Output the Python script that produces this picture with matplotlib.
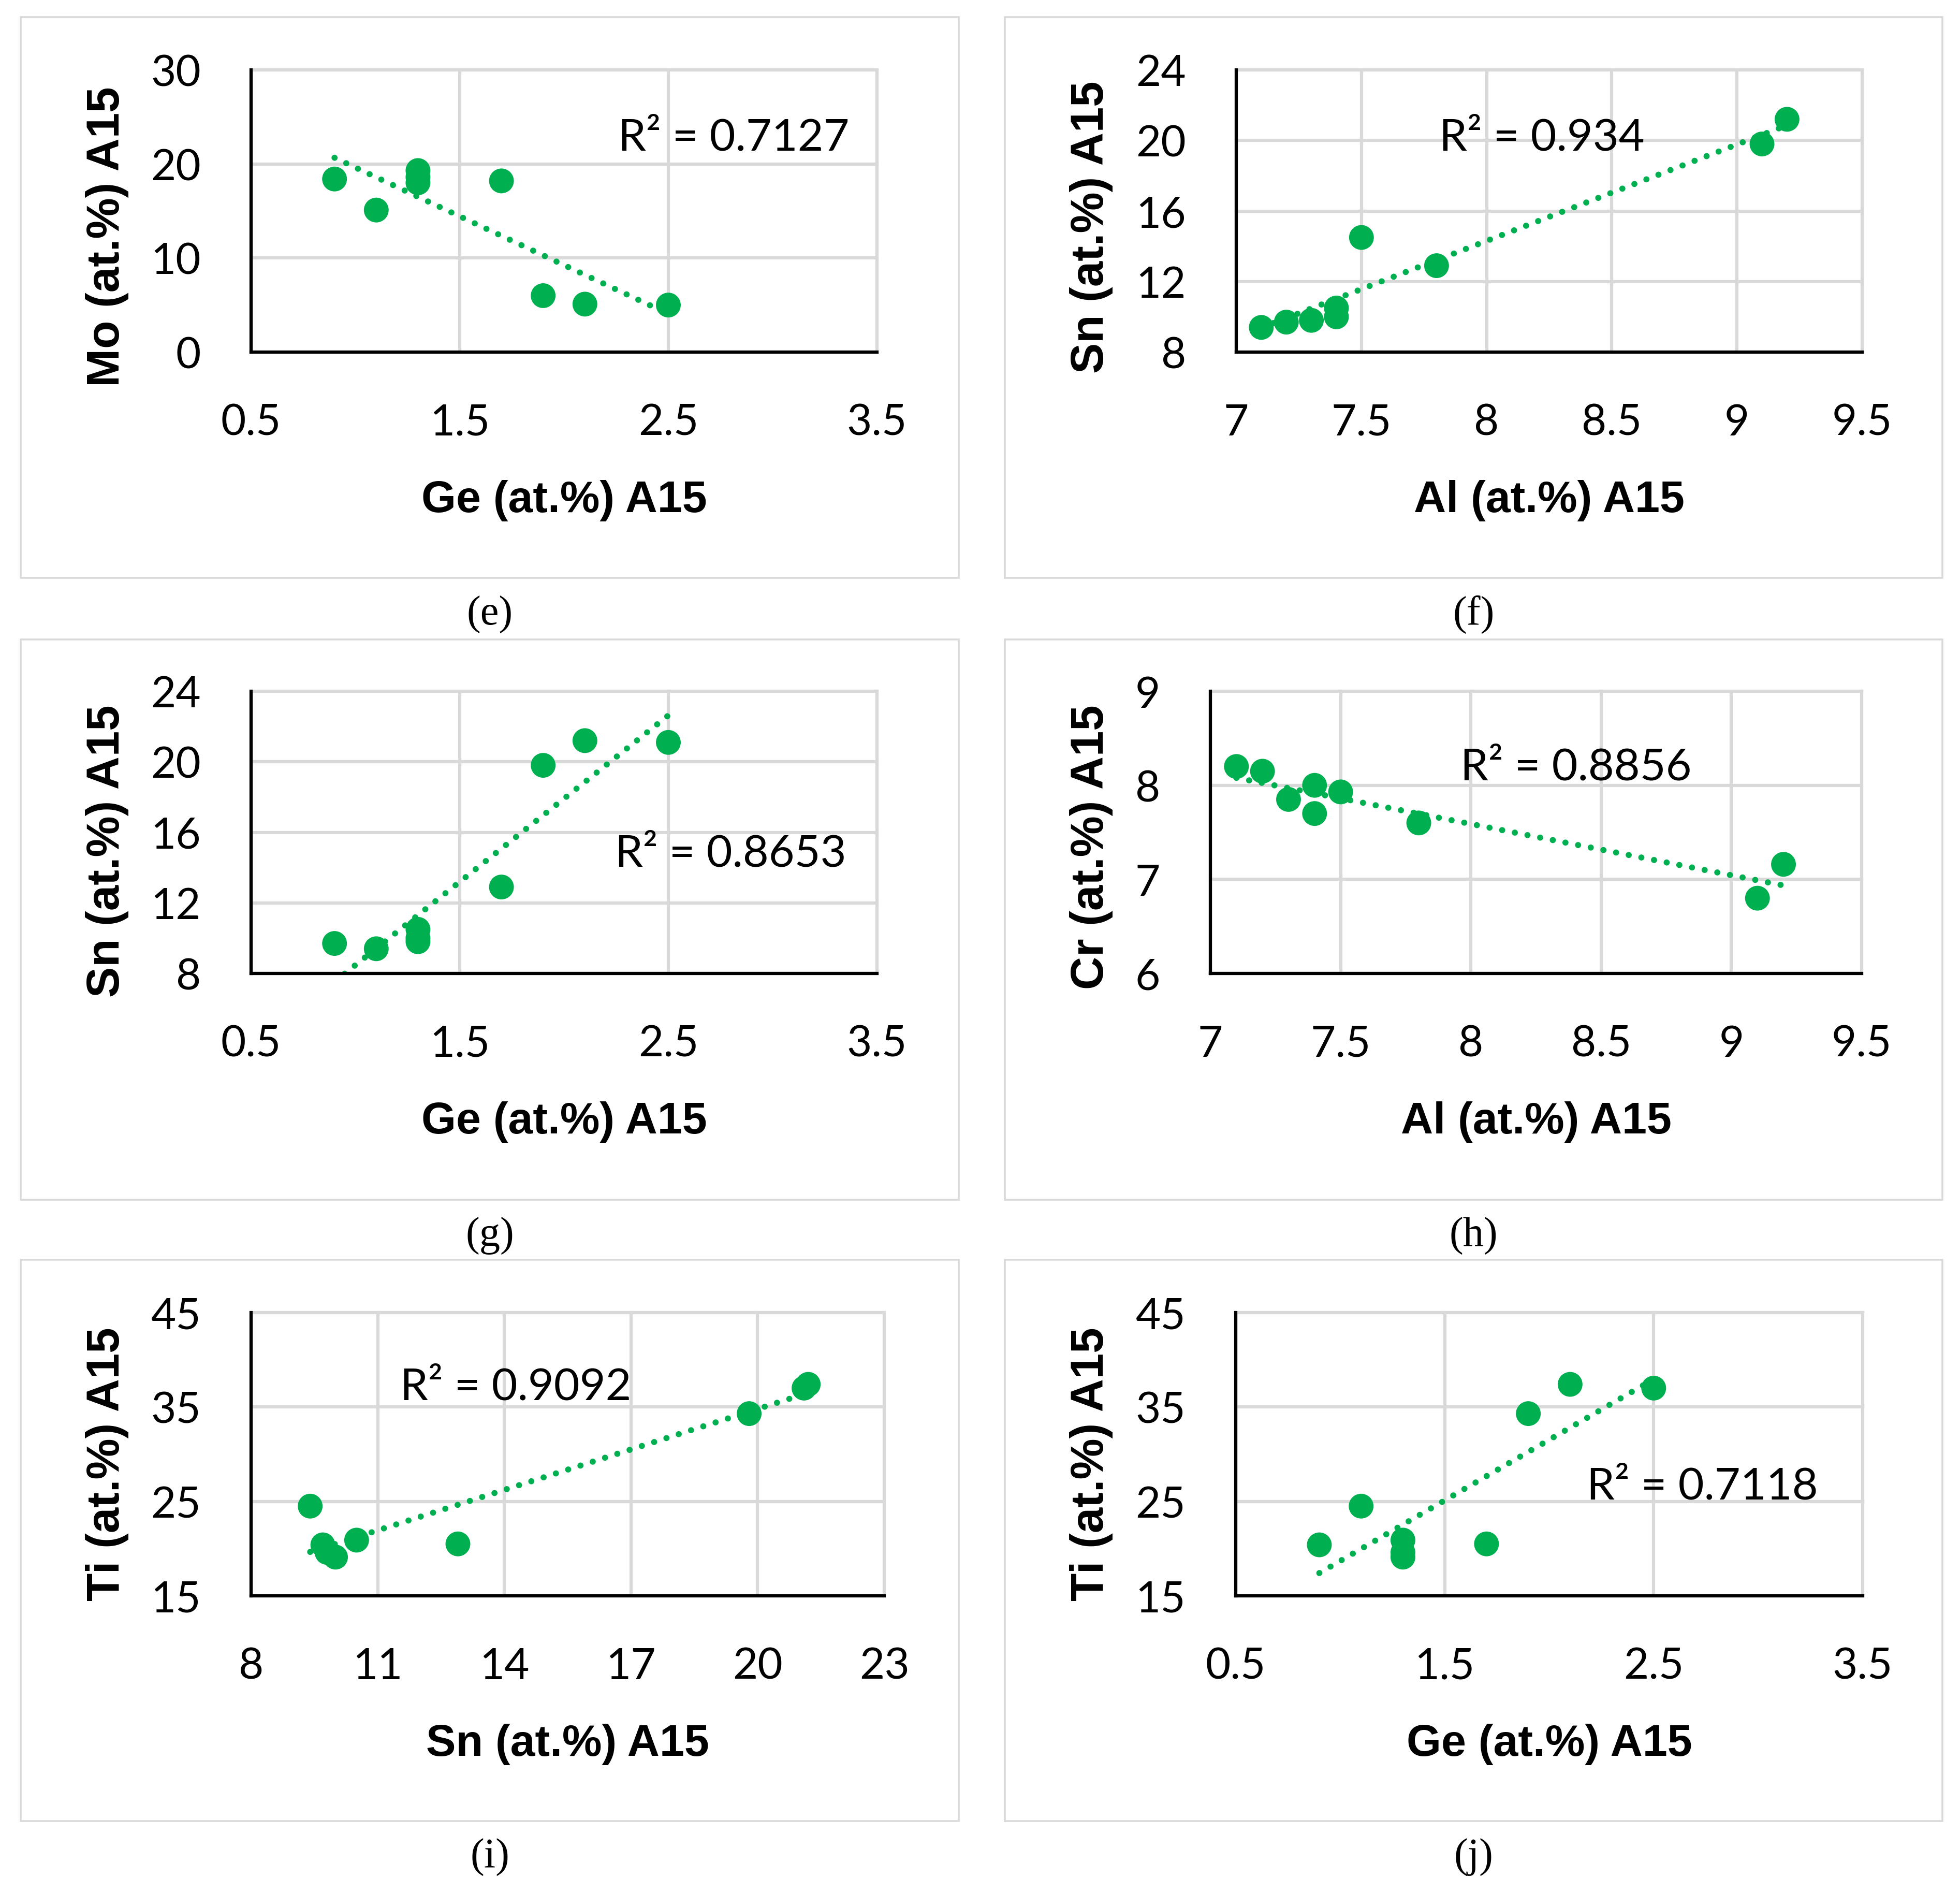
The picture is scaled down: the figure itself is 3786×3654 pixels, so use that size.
import numpy as np
import matplotlib
matplotlib.use("Agg")
import matplotlib.pyplot as plt
from matplotlib.patches import Rectangle

# ---- data ----
ge = [0.9, 1.1, 1.3, 1.3, 1.3, 1.7, 1.9, 2.1, 2.5]
mo = [18.4, 15.1, 19.3, 18.6, 18.0, 18.2, 6.0, 5.1, 5.0]
sn_ge = [9.7, 9.4, 10.5, 9.8, 10.0, 12.9, 19.8, 21.2, 21.1]
ti = [20.4, 24.5, 20.9, 19.6, 19.1, 20.5, 34.3, 37.4, 37.0]

al = [7.1, 7.2, 7.3, 7.4, 7.4, 7.5, 7.8, 9.1, 9.2]
sn_al = [9.4, 9.7, 9.8, 10.5, 10.0, 14.5, 12.9, 19.8, 21.2]
cr = [8.2, 8.15, 7.85, 8.0, 7.7, 7.93, 7.6, 6.8, 7.16]

ge_ticks = [0.5, 1.5, 2.5, 3.5]
ge_labels = ["0.5", "1.5", "2.5", "3.5"]
al_ticks = [7, 7.5, 8, 8.5, 9, 9.5]
al_labels = ["7", "7.5", "8", "8.5", "9", "9.5"]
sn_ticks = [8, 11, 14, 17, 20, 23]
sn_ticks_y = [8, 12, 16, 20, 24]
mo_ticks = [0, 10, 20, 30]
cr_ticks = [6, 7, 8, 9]
ti_ticks = [15, 25, 35, 45]

r2_labels = ["0.7127", "0.934", "0.8653", "0.8856", "0.9092", "0.7118"]
captions = ["(e)", "(f)", "(g)", "(h)", "(i)", "(j)"]

GREEN = "#00B050"
GRID = "#D9D9D9"
W, H = 3786, 3655

# panel: x, y, xticks, xlabels, yticks, xlabel, ylabel,
#        plot box (px: left, right, top, bottom), y-label centre (px), r2 pos (data)
panels = [
    (ge, mo, ge_ticks, ge_labels, mo_ticks, "Ge (at.%) A15", "Mo (at.%) A15",
     (485, 1694, 136, 681), (207, 457), (2.26, 21.5)),
    (al, sn_al, al_ticks, al_labels, sn_ticks_y, "Al (at.%) A15", "Sn (at.%) A15",
     (2388, 3597, 136, 681), (2108, 439), (7.81, 19.47)),
    (ge, sn_ge, ge_ticks, ge_labels, sn_ticks_y, "Ge (at.%) A15", "Sn (at.%) A15",
     (485, 1694, 1336, 1881), (207, 1644), (2.244, 14.09)),
    (al, cr, al_ticks, al_labels, cr_ticks, "Al (at.%) A15", "Cr (at.%) A15",
     (2338, 3596, 1336, 1881), (2108, 1636), (7.96, 8.06)),
    (sn_ge, ti, sn_ticks, [str(t) for t in sn_ticks], ti_ticks, "Sn (at.%) A15", "Ti (at.%) A15",
     (485, 1708, 2536, 3083), (207, 2828), (11.53, 35.8)),
    (ge, ti, ge_ticks, ge_labels, ti_ticks, "Ge (at.%) A15", "Ti (at.%) A15",
     (2387, 3598, 2536, 3083), (2108, 2828), (2.18, 25.3)),
]

frames_x = [(40, 1852), (1941, 3752)]
frames_y = [(34, 1117), (1236, 2318), (2434, 3518)]

TICK_FONT = ["Lato", "DejaVu Sans"]
LABEL_FONT = ["Liberation Sans", "DejaVu Sans"]


def main():
    fig = plt.figure(figsize=(W / 100, H / 100), dpi=100)

    # light frames around each chart and the captions below them
    for k in range(6):
        col, row = k % 2, k // 2
        x0, x1 = frames_x[col]
        y0, y1 = frames_y[row]
        fig.patches.append(Rectangle((x0 / W, 1 - y1 / H), (x1 - x0) / W, (y1 - y0) / H,
                                     transform=fig.transFigure, fill=False,
                                     edgecolor=GRID, linewidth=2.6))
        fig.text((x0 + x1) / 2 / W, 1 - (1187 + 1200 * row) / H, captions[k],
                 ha="center", va="center", fontsize=58, family=["Liberation Serif", "DejaVu Serif"])

    for k, (x, y, xt, xtl, yt, xl, yl, box, ylab, r2pos) in enumerate(panels):
        L, R, T, B = box
        ax = fig.add_axes([L / W, 1 - B / H, (R - L) / W, (B - T) / H])
        wpx, hpx = R - L, B - T

        ax.set_xlim(xt[0], xt[-1])
        ax.set_ylim(yt[0], yt[-1])
        ax.set_xticks(xt)
        ax.set_xticklabels(xtl)
        ax.set_yticks(yt)
        ax.set_yticklabels([str(v) for v in yt])
        ax.tick_params(length=0, labelsize=60)
        ax.tick_params(axis="x", pad=71)
        ax.tick_params(axis="y", pad=70)
        for lab in ax.get_xticklabels() + ax.get_yticklabels():
            lab.set_family(TICK_FONT)

        ax.grid(True, color=GRID, linewidth=4.5)
        ax.set_axisbelow(True)
        for gl in ax.get_xgridlines() + ax.get_ygridlines():
            gl.set_clip_on(False)
        ax.spines["top"].set_visible(False)
        ax.spines["right"].set_visible(False)
        for s in ("left", "bottom"):
            ax.spines[s].set_linewidth(4.5)
            ax.spines[s].set_color("black")
            ax.spines[s].set_zorder(5)

        # linear trendline over the data range
        xa, ya = np.array(x), np.array(y)
        m, c = np.polyfit(xa, ya, 1)
        xs = np.linspace(xa.min(), xa.max(), 50)
        ax.plot(xs, m * xs + c, color=GREEN, linewidth=8.5,
                linestyle=(0, (0.01, 2.1)), dash_capstyle="round", zorder=2)
        ax.scatter(xa, ya, s=1190, color=GREEN, edgecolors="none", zorder=3, clip_on=False)

        ax.text(r2pos[0], r2pos[1], "R\u00b2 = " + r2_labels[k], fontsize=62,
                family=TICK_FONT, ha="left", va="baseline", zorder=4)

        ax.set_xlabel(xl, fontsize=62, fontweight="bold", family=LABEL_FONT)
        ax.xaxis.label.set_va("center")
        ax.xaxis.set_label_coords(0.5, -286 / hpx)
        ax.set_ylabel(yl, fontsize=64, fontweight="bold", family=LABEL_FONT)
        ax.yaxis.label.set_va("center")
        ax.yaxis.set_label_coords((ylab[0] - L) / wpx, (B - ylab[1]) / hpx)

    fig.savefig("out.png", dpi=100, facecolor="white")


if __name__ == "__main__":
    main()
